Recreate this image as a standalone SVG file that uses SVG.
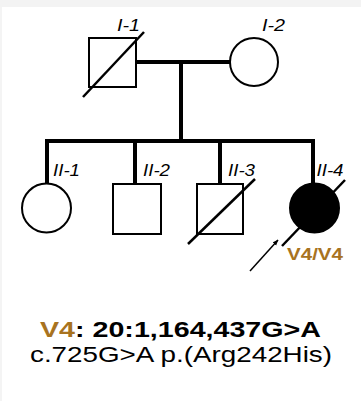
<svg xmlns="http://www.w3.org/2000/svg" width="361" height="401" viewBox="0 0 361 401">
<defs>
<style>
.sym{fill:#fff;stroke:#000;stroke-width:2}
.aff{fill:#000;stroke:#000;stroke-width:2}
.dec{stroke:#000;stroke-width:2.5;fill:none}
.ln{stroke:#000;stroke-width:4;fill:none}
.lab{font-family:"Liberation Sans",Arial,sans-serif;font-style:italic;font-size:16px;fill:#000}
.geno{font-family:"Liberation Sans",Arial,sans-serif;font-weight:bold;font-size:17px;fill:#a8731f}
.t1{font-family:"Liberation Sans",Arial,sans-serif;font-weight:bold;font-size:22px;fill:#000}
.t2{font-family:"Liberation Sans",Arial,sans-serif;font-size:22px;fill:#000}
</style>
<marker id="ah" viewBox="0 0 10 10" refX="9" refY="5" markerWidth="6" markerHeight="6" orient="auto" markerUnits="userSpaceOnUse">
<path d="M0,1 L10,5 L0,9 Z" fill="#000"/>
</marker>
</defs>
<rect x="0" y="0" width="361" height="401" fill="#fff"/>
<rect x="0" y="0" width="361" height="7" fill="#f3f3f3"/>
<line x1="1" y1="7" x2="1" y2="401" stroke="#f0f0f0" stroke-width="1.5"/>
<g id="connectors">
<line class="ln" x1="136" y1="62" x2="230" y2="62"/>
<line class="ln" x1="181" y1="62" x2="181" y2="141"/>
<line class="ln" x1="45" y1="141" x2="315" y2="141"/>
<line class="ln" x1="47" y1="141" x2="47" y2="184"/>
<line class="ln" x1="135" y1="141" x2="135" y2="184"/>
<line class="ln" x1="220" y1="141" x2="220" y2="184"/>
<line class="ln" x1="313" y1="141" x2="313" y2="184"/>
<line x1="250" y1="271" x2="278" y2="240" stroke="#000" stroke-width="1.5" marker-end="url(#ah)"/>
</g>
<g id="I-1">
<rect class="sym" x="89" y="38" width="47" height="49"/>
<line class="dec" x1="83" y1="97" x2="144" y2="32"/>
<text class="lab" x="128.5" y="31" text-anchor="middle" textLength="23" lengthAdjust="spacingAndGlyphs">I-1</text>
</g>
<g id="I-2">
<circle class="sym" cx="254" cy="62" r="24"/>
<text class="lab" x="273.5" y="31" text-anchor="middle" textLength="23" lengthAdjust="spacingAndGlyphs">I-2</text>
</g>
<g id="II-1">
<circle class="sym" cx="46.5" cy="208" r="24.5"/>
<text class="lab" x="66.5" y="176" text-anchor="middle" textLength="27" lengthAdjust="spacingAndGlyphs">II-1</text>
</g>
<g id="II-2">
<rect class="sym" x="113" y="184" width="48" height="50"/>
<text class="lab" x="156.5" y="176" text-anchor="middle" textLength="27" lengthAdjust="spacingAndGlyphs">II-2</text>
</g>
<g id="II-3">
<rect class="sym" x="197" y="184" width="46" height="50"/>
<line class="dec" x1="188" y1="244" x2="255" y2="179"/>
<text class="lab" x="241.5" y="176" text-anchor="middle" textLength="27" lengthAdjust="spacingAndGlyphs">II-3</text>
</g>
<g id="II-4">
<circle class="aff" cx="314.5" cy="208" r="24.5"/>
<line class="dec" x1="282" y1="246" x2="345" y2="180"/>
<text class="lab" x="330" y="176" text-anchor="middle" textLength="27" lengthAdjust="spacingAndGlyphs">II-4</text>
<text class="geno" x="315" y="260" text-anchor="middle" textLength="56" lengthAdjust="spacingAndGlyphs">V4/V4</text>
</g>
<g id="caption">
<text class="t1" x="40" y="337" textLength="281" lengthAdjust="spacingAndGlyphs"><tspan fill="#a8731f">V4</tspan>: 20:1,164,437G&gt;A</text>
<text class="t2" x="30" y="362" textLength="302" lengthAdjust="spacingAndGlyphs">c.725G&gt;A p.(Arg242His)</text>
</g>
</svg>
